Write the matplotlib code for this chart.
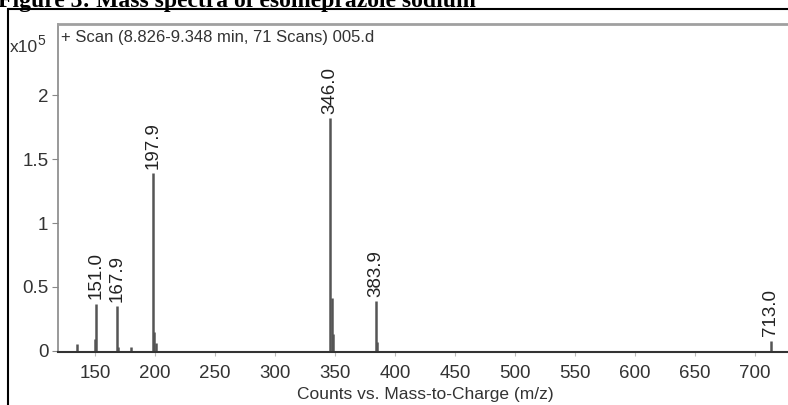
import matplotlib
matplotlib.use("Agg")
import matplotlib.pyplot as plt
from matplotlib.patches import Rectangle

# m/z values and intensities (x10^5 counts)
mz = [135.0, 149.9, 151.0, 167.9, 168.9, 179.5, 197.9, 199.0, 200.6,
      346.0, 347.0, 348.0, 383.9, 385.0, 713.0]
intensity = [0.055, 0.09, 0.37, 0.35, 0.03, 0.03, 1.39, 0.15, 0.06,
             1.82, 0.41, 0.13, 0.39, 0.07, 0.08]

# labelled peaks
label_mz = [151.0, 167.9, 197.9, 346.0, 383.9, 713.0]
label_int = [0.37, 0.35, 1.39, 1.82, 0.39, 0.08]
label_txt = ["151.0", "167.9", "197.9", "346.0", "383.9", "713.0"]

xticks = [150, 200, 250, 300, 350, 400, 450, 500, 550, 600, 650, 700]
yticks = [0, 0.5, 1, 1.5, 2]
ytick_labels = ["0", "0.5", "1", "1.5", "2"]

sans = ["Liberation Sans", "DejaVu Sans"]

fig = plt.figure(figsize=(7.88, 4.05), dpi=100)
W, H = 788, 405

# outer frame of the scanned figure
fig.patches.append(Rectangle((8 / W, -0.1), 1.2, 1 - 9 / H + 0.1,
                             transform=fig.transFigure, fill=False,
                             edgecolor="black", linewidth=1.5))

fig.text(-2 / W, 1 - 7 / H, "Figure 3: Mass spectra of esomeprazole sodium",
         fontsize=17, fontweight="bold", family="Liberation Serif",
         ha="left", va="baseline")

ax = fig.add_axes([58 / W, (H - 352) / H, 1 - 58 / W, (352 - 24) / H])

ax.vlines(mz, 0, intensity, colors="#555555", linewidth=1.8)

for x, y, t in zip(label_mz, label_int, label_txt):
    ax.annotate(t, (x, y), xytext=(0, 3), textcoords="offset points",
                rotation=90, ha="center", va="bottom", fontsize=13.5,
                family=sans, color="#222222")

ax.set_xlim(119, 727.5)
ax.set_ylim(-0.01, 2.56)

ax.set_xticks(xticks)
ax.set_yticks(yticks)
ax.set_yticklabels(ytick_labels)
for lbl in ax.get_xticklabels() + ax.get_yticklabels():
    lbl.set_family(sans)
    lbl.set_fontsize(13.5)
    lbl.set_color("#333333")

ax.tick_params(axis="x", direction="out", length=3, width=0.8,
               color="#bbbbbb", pad=6)
ax.tick_params(axis="y", direction="out", length=4, width=0.8,
               color="#888888", pad=3)

ax.spines["right"].set_visible(False)
ax.spines["top"].set_color("#a0a0a0")
ax.spines["top"].set_linewidth(2)
ax.spines["left"].set_color("#888888")
ax.spines["left"].set_linewidth(1.2)
ax.spines["bottom"].set_color("#333333")
ax.spines["bottom"].set_linewidth(1.5)

ax.text(0.004, 0.96, "+ Scan (8.826-9.348 min, 71 Scans) 005.d",
        transform=ax.transAxes, ha="left", va="center",
        fontsize=12, family=sans, color="#333333")

fig.text(10 / W, 1 - 48 / H, "x10", fontsize=12.5, family=sans,
         ha="left", va="center", color="#333333")
fig.text(37 / W, 1 - 41 / H, "5", fontsize=10, family=sans,
         ha="left", va="center", color="#333333")

fig.text(425 / W, 1 - 394 / H, "Counts vs. Mass-to-Charge (m/z)",
         fontsize=12.5, family=sans, ha="center", va="center",
         color="#333333")

fig.savefig("out.png", dpi=100)
